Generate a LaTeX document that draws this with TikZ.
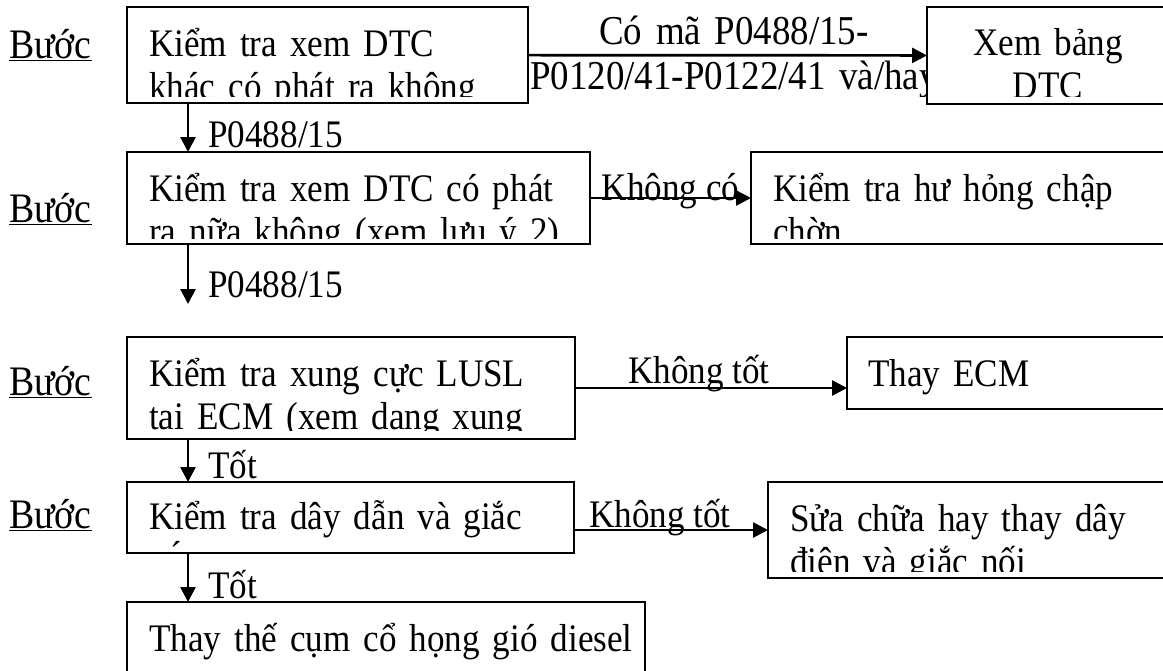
\documentclass[tikz,border=0pt]{standalone}
\usepackage{fontspec}
\setmainfont{Liberation Serif}[FakeStretch=0.9]
\usetikzlibrary{arrows.meta}
\usetikzlibrary{fit}
\usetikzlibrary{backgrounds}
\tikzset{
  box/.style = {rectangle, draw, fill=white, line width=2.5pt, inner sep=0pt, outer sep=0pt},
  txt/.style = {anchor=base west, inner sep=0pt, text width=620pt, align=left},
  ctxt/.style = {anchor=base, inner sep=0pt, text width=420pt, align=center},
  stepno/.style = {anchor=base west, inner sep=0pt},
  flow/.style = {-{Triangle[length=15pt, width=15pt]}, line width=2.7pt},
  flowlabel/.style = {anchor=base, inner sep=0pt},
}

\begin{document}
\begin{tikzpicture}[x=1pt, y=-1pt, font=\fontsize{39}{43}\selectfont]
  \useasboundingbox (0,0) rectangle (1163,670);
  \clip (0,0) rectangle (1163,670);

  \node[stepno, font=\fontsize{42}{43}\selectfont] (b1) at (9,58) {\underline{Bước}};
  \node[stepno, font=\fontsize{42}{43}\selectfont] (b2) at (9,222) {\underline{Bước}};
  \node[stepno, font=\fontsize{42}{43}\selectfont] (b3) at (9,395) {\underline{Bước}};
  \node[stepno, font=\fontsize{42}{43}\selectfont] (b4) at (9,528) {\underline{Bước}};

  % left column
  \node[box, fit={(127,7) (528,103)}] (s1) {};
  \begin{scope}
    \clip (s1.north west) rectangle ([yshift=7pt]s1.south east);
    \node[txt] (s1t) at (149,56) {Kiểm tra xem DTC\\khác có phát ra không};
  \end{scope}

  \node[box, fit={(127,152) (590,244)}] (s2) {};
  \begin{scope}
    \clip (s2.north west) rectangle ([yshift=6pt]s2.south east);
    \node[txt] (s2t) at (149,201) {Kiểm tra xem DTC có phát\\ra nữa không (xem lưu ý 2)};
  \end{scope}

  \node[box, fit={(127,337) (575,439)}] (s3) {};
  \begin{scope}
    \clip (s3.north west) rectangle ([yshift=9pt]s3.south east);
    \node[txt] (s3t) at (149,386) {Kiểm tra xung cực LUSL\\tại ECM (xem dạng xung};
  \end{scope}

  \node[box, fit={(127,482) (574,553)}] (s4) {};
  \begin{scope}
    \clip (s4.north west) rectangle ([yshift=5pt]s4.south east);
    \node[txt] (s4t) at (149,529) {Kiểm tra dây dẫn và giắc};
    \node[stepno] (s4a) at (170,568) {´};
  \end{scope}

  \node[box, fit={(127,602) (645,690)}] (s5) {};
  \node[txt] (s5t) at (149,651) {Thay thế cụm cổ họng gió diesel};

  % right column
  \node[box, fit={(927,7) (1175,104)}] (r1) {};
  \begin{scope}
    \clip (r1.north west) rectangle ([yshift=8pt]r1.south east);
    \node[ctxt, text width=240pt] (r1t) at (1048,55) {Xem bảng\\DTC};
  \end{scope}

  \node[box, fit={(751,152) (1175,244)}] (r2) {};
  \begin{scope}
    \clip (r2.north west) rectangle ([yshift=6pt]r2.south east);
    \node[txt] (r2t) at (773,201) {Kiểm tra hư hỏng chập\\chờn};
  \end{scope}

  \node[box, fit={(847,337) (1175,409)}] (r3) {};
  \node[txt] (r3t) at (868,386) {Thay ECM};

  \node[box, fit={(768,482) (1175,578)}] (r4) {};
  \begin{scope}
    \clip (r4.north west) rectangle ([yshift=7pt]r4.south east);
    \node[txt] (r4t) at (790,531) {Sửa chữa hay thay dây\\điện và giắc nối};
  \end{scope}

  % arrows
  \begin{pgfonlayer}{background}
    \clip (0,0) rectangle (1163,96);
    \node[ctxt, font=\fontsize{41}{45}\selectfont] (l1) at (734,44) {Có mã P0488/15-\\P0120/41-P0122/41 và/hay};
  \end{pgfonlayer}
  \draw[flow] (s1) -- (r1);
  \draw[flow] (s2) -- node[flowlabel, yshift=-2pt] (l2) {Không có} (r2);
  \draw[flow] (s3) -- node[flowlabel, xshift=-12pt, yshift=5pt] (l3) {Không tốt} (s3 -| r3.west);
  \draw[flow] (s4.east |- r4) -- node[flowlabel, xshift=-11pt, yshift=3pt] (l4) {Không tốt} (r4);

  \coordinate (e2) at (188,304);
  \draw[flow] ([xshift=61pt]s1.south west) -- ([xshift=61pt]s2.north west)
    node[stepno, at end, xshift=19pt, yshift=5pt] (d1) {P0488/15};
  \draw[flow] ([xshift=61pt]s2.south west) -- (e2)
    node[stepno, at end, xshift=19pt, yshift=7pt] (d2) {P0488/15};
  \draw[flow] ([xshift=61pt]s3.south west) -- ([xshift=61pt]s4.north west)
    node[stepno, at end, xshift=19pt, yshift=4pt] (d3) {Tốt};
  \draw[flow] ([xshift=61pt]s4.south west) -- ([xshift=61pt]s5.north west)
    node[stepno, at end, xshift=19pt, yshift=4pt] (d4) {Tốt};
\end{tikzpicture}
\end{document}
